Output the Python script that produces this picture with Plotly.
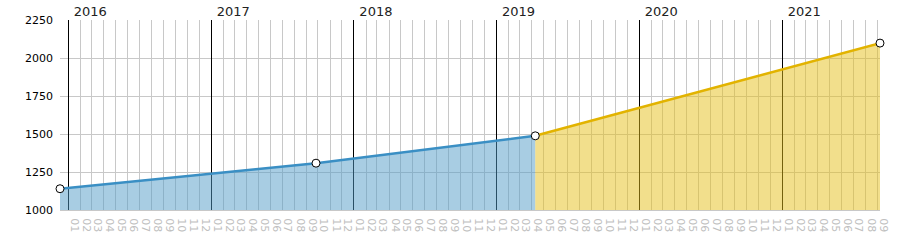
import plotly.graph_objects as go

# Data
actual_dates = ["2015-12-11", "2017-09-26", "2019-04-10"]
actual_values = [1140, 1308, 1488]
forecast_dates = ["2019-04-10", "2021-09-08"]
forecast_values = [1488, 2098]
point_dates = actual_dates + forecast_dates[1:]
point_values = actual_values + forecast_values[1:]

x_range = [point_dates[0], point_dates[-1]]
y_range = [1000, 2250]

FONT = "DejaVu Sans, Verdana, sans-serif"

fig = go.Figure()
fig.add_trace(go.Scatter(
    x=actual_dates, y=actual_values, mode="lines",
    line=dict(color="#3a8fc4", width=2.5),
    fill="tozeroy", fillcolor="rgba(81,155,199,0.5)",
    hoverinfo="skip", showlegend=False))
fig.add_trace(go.Scatter(
    x=forecast_dates, y=forecast_values, mode="lines",
    line=dict(color="#e2b300", width=2.5),
    fill="tozeroy", fillcolor="rgba(229,191,25,0.5)",
    hoverinfo="skip", showlegend=False))
fig.add_trace(go.Scatter(
    x=point_dates, y=point_values, mode="markers",
    marker=dict(symbol="circle", size=8, color="white",
                line=dict(color="black", width=1)),
    cliponaxis=False, hoverinfo="skip", showlegend=False))
# invisible trace to tie the top (year) axis to the data
fig.add_trace(go.Scatter(
    x=point_dates, y=point_values, mode="lines", xaxis="x2",
    line=dict(width=0), opacity=0, hoverinfo="skip", showlegend=False))

fig.update_layout(
    width=900, height=250,
    margin=dict(l=60, r=20, t=20, b=40),
    paper_bgcolor="white", plot_bgcolor="white",
    xaxis=dict(
        type="date", range=x_range, automargin=False,
        tick0="2016-01-01", dtick="M1", tickformat="%m",
        tickangle=90, ticklabelshift=6, ticklabelstandoff=5,
        tickfont=dict(family=FONT, size=11, color="#c0c0c0"),
        showgrid=False, zeroline=False,
        showline=True, linecolor="#c8c8c8", linewidth=1,
        ticks="",
    ),
    xaxis2=dict(
        type="date", range=x_range, overlaying="x", side="top", anchor="y",
        automargin=False,
        tick0="2016-01-01", dtick="M12", tickformat="%Y",
        ticklabelshift=22,
        tickfont=dict(family=FONT, size=13, color="#222222"),
        showgrid=True, gridcolor="#000000", gridwidth=1,
        minor=dict(dtick="M1", tick0="2016-01-01", showgrid=True,
                   gridcolor="#c8c8c8", gridwidth=1),
        zeroline=False, ticks="",
    ),
    yaxis=dict(
        range=y_range, dtick=250, tick0=1000, automargin=False,
        tickfont=dict(family=FONT, size=11, color="#000000"),
        showgrid=True, gridcolor="#c8c8c8", gridwidth=1,
        zeroline=False, ticks="", ticklabelstandoff=6,
    ),
)

fig.write_html("out.html")
